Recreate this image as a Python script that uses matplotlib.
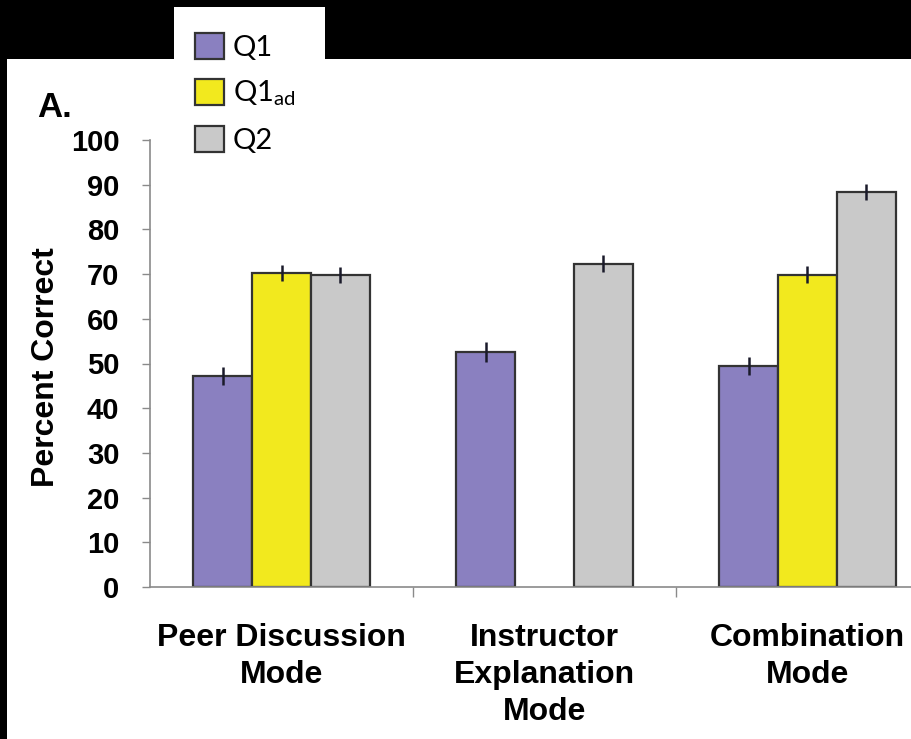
import numpy as np
import matplotlib
matplotlib.use("Agg")
import matplotlib.pyplot as plt
from matplotlib.patches import Rectangle

# ---- data ----
categories = ["Peer Discussion\nMode", "Instructor\nExplanation\nMode", "Combination\nMode"]
series_names = ["Q1", "Q1$_\\mathregular{ad}$", "Q2"]
q1 = [47.2, 52.6, 49.5]
q1_err = [2.0, 2.2, 2.0]
q1ad = [70.3, np.nan, 69.9]
q1ad_err = [1.8, np.nan, 2.0]
q2 = [69.8, 72.3, 88.4]
q2_err = [1.9, 1.9, 1.8]
yticks = list(range(0, 101, 10))

colors = ["#8A80C0", "#F2E91E", "#C9C9C9"]
edge = "#333333"

W, H = 912, 739
fig = plt.figure(figsize=(W / 100, H / 100), dpi=100, facecolor="black")

# white panels of the cropped figure
fig.add_artist(Rectangle((7 / W, 0), 1 - 7 / W, 1 - 59 / H, transform=fig.transFigure,
                         facecolor="white", edgecolor="none", zorder=0))
fig.add_artist(Rectangle((174 / W, 1 - 59 / H), (325 - 174) / W, (59 - 7) / H,
                         transform=fig.transFigure, facecolor="white", edgecolor="none", zorder=0))

ax = fig.add_axes([150 / W, 1 - 587 / H, 1 - 150 / W, (587 - 140) / H])
ax.set_facecolor("none")

x = np.arange(len(categories))
width = 0.224
series = [(q1, q1_err), (q1ad, q1ad_err), (q2, q2_err)]
handles = []
for i, ((vals, errs), name, col) in enumerate(zip(series, series_names, colors)):
    pos = x + (i - 1) * width
    b = ax.bar(pos, vals, width=width, color=col, edgecolor=edge, linewidth=1.6,
               label=name, zorder=2)
    handles.append(b)
    ax.errorbar(pos, vals, yerr=errs, fmt="none", ecolor="#1a1a2a", elinewidth=1.8,
                capsize=0, zorder=3)

ax.set_xlim(-0.5, -0.5 + (W - 150) / 263)
ax.set_ylim(0, 100)

axfont = dict(family="Liberation Sans", weight="bold")
ax.set_yticks(yticks)
ax.set_yticklabels([str(v) for v in yticks], fontsize=21, **axfont)
ax.set_xticks(x)
ax.set_xticklabels(categories, fontsize=23, linespacing=1.3, **axfont)
ax.set_xticks([0.5, 1.5], minor=True)

ax.tick_params(axis="y", which="major", length=6, width=1, color="#8a8a8a", pad=16)
ax.tick_params(axis="x", which="major", length=0, pad=26)
ax.tick_params(axis="x", which="minor", length=7, width=1, color="#8a8a8a")

for s in ["top", "right"]:
    ax.spines[s].set_visible(False)
for s in ["left", "bottom"]:
    ax.spines[s].set_color("#8a8a8a")
    ax.spines[s].set_linewidth(1.2)

ax.set_ylabel("Percent Correct", fontsize=23, **axfont)
ax.yaxis.set_label_coords(-0.117, 0.493)

fig.text(37 / W, 1 - 117 / H, "A.", fontsize=25, ha="left", va="baseline", **axfont)

leg = fig.legend(handles=handles, labels=series_names, loc="upper left",
                 bbox_to_anchor=(195 / W, 1 - 33 / H), frameon=False,
                 prop=dict(family="Lato", size=21), handlelength=1.0, handleheight=1.0,
                 handletextpad=0.3, labelspacing=0.6, borderpad=0, borderaxespad=0)

fig.savefig("out.png", dpi=100)
